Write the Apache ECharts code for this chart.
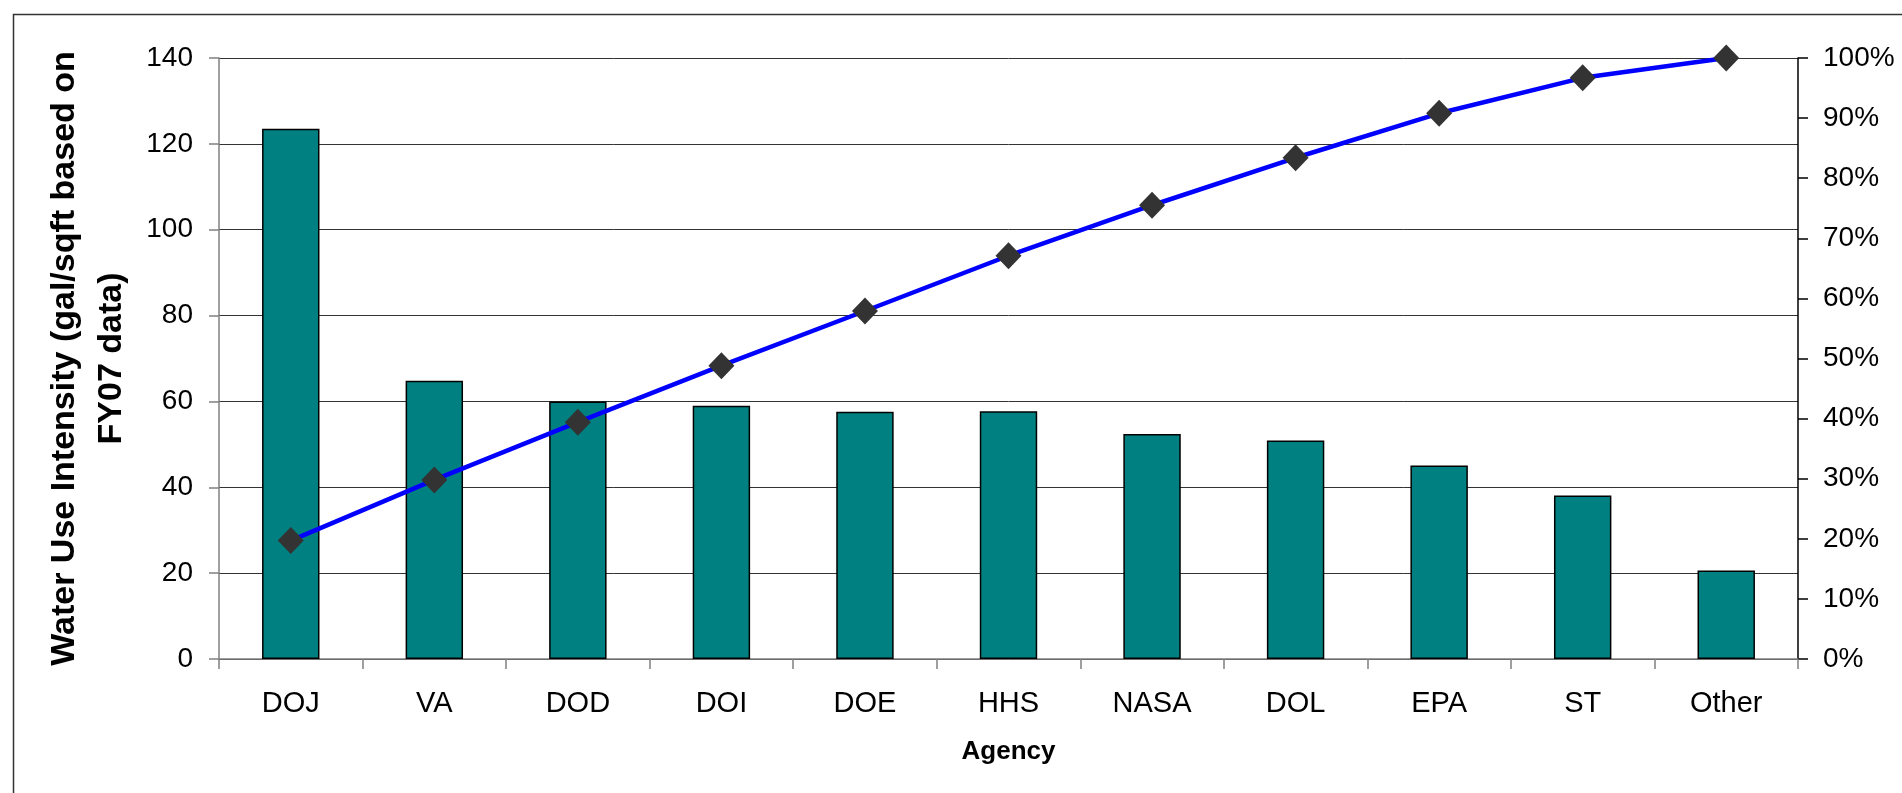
<!DOCTYPE html>
<html>
<head>
<meta charset="utf-8">
<script src="https://cdn.jsdelivr.net/npm/echarts@6/dist/echarts.min.js"></script>
<style>
html,body{margin:0;padding:0;background:#fff;}
#chart{width:1902px;height:793px;}
</style>
</head>
<body>
<div id="chart"></div>
<script>
const categories = ['DOJ','VA','DOD','DOI','DOE','HHS','NASA','DOL','EPA','ST','Other'];
const intensity = [123.5, 64.8, 60.0, 59.0, 57.6, 57.7, 52.4, 50.9, 45.1, 38.1, 20.6];
const cumulativePct = [19.7, 29.8, 39.4, 48.8, 57.9, 67.1, 75.5, 83.4, 90.8, 96.7, 100];
const leftTicks = {min: 0, max: 140, interval: 20};
const rightTicks = {min: 0, max: 100, interval: 10};

const FONT = "'Liberation Sans', Arial, sans-serif";
const chart = echarts.init(document.getElementById('chart'));
chart.setOption({
  animation: false,
  backgroundColor: '#fff',
  graphic: [{
    type: 'rect', left: 11, top: 12, z: -1,
    shape: {width: 2000, height: 1000},
    style: {fill: 'none', stroke: '#333', lineWidth: 1.5}
  }],
  grid: {left: 219, right: 104, top: 58, bottom: 134},
  xAxis: {
    type: 'category',
    data: categories,
    name: 'Agency',
    nameLocation: 'middle',
    nameGap: 80,
    nameTextStyle: {fontFamily: FONT, fontSize: 26, fontWeight: 'bold', color: '#000'},
    axisLine: {lineStyle: {color: '#808080', width: 1.5}},
    axisTick: {show: true, length: 10, lineStyle: {color: '#808080', width: 1.5}},
    axisLabel: {fontFamily: FONT, fontSize: 29, color: '#000', margin: 30}
  },
  yAxis: [{
    type: 'value',
    min: leftTicks.min, max: leftTicks.max, interval: leftTicks.interval,
    name: 'Water Use Intensity (gal/sqft based on\nFY07 data)',
    nameLocation: 'middle',
    nameGap: 84,
    nameTextStyle: {fontFamily: FONT, fontSize: 34, fontWeight: 'bold', color: '#000', lineHeight: 47},
    axisLine: {show: true, lineStyle: {color: '#808080', width: 1.5}},
    axisTick: {show: true, length: 10, lineStyle: {color: '#808080', width: 1.5}},
    axisLabel: {fontFamily: FONT, fontSize: 28, color: '#000', margin: 26},
    splitLine: {show: true, lineStyle: {color: '#333', width: 1}}
  }, {
    type: 'value',
    position: 'right',
    min: rightTicks.min, max: rightTicks.max, interval: rightTicks.interval,
    axisLine: {show: true, lineStyle: {color: '#000', width: 1.5}},
    axisTick: {show: true, length: 10, lineStyle: {color: '#000', width: 1.5}},
    axisLabel: {fontFamily: FONT, fontSize: 28, color: '#000', margin: 25, formatter: '{value}%'},
    splitLine: {show: false}
  }],
  series: [{
    type: 'bar',
    data: intensity,
    barWidth: '40%',
    itemStyle: {color: '#008080', borderColor: '#000', borderWidth: 1.5}
  }, {
    type: 'line',
    yAxisIndex: 1,
    data: cumulativePct,
    symbol: 'diamond',
    symbolSize: [26, 27],
    lineStyle: {color: '#0000ff', width: 4.5},
    itemStyle: {color: '#333333'},
    z: 5
  }]
});
</script>
</body>
</html>
